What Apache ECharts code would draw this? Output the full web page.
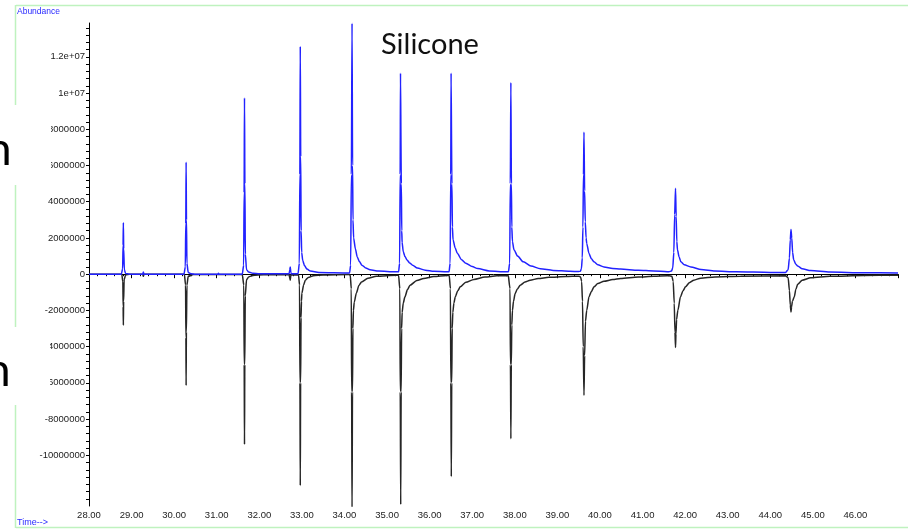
<!DOCTYPE html>
<html>
<head>
<meta charset="utf-8">
<script src="https://cdn.jsdelivr.net/npm/echarts@6/dist/echarts.min.js"></script>
<style>
html,body{margin:0;padding:0;background:#fff;}
#chart{width:908px;height:531px;}
</style>
</head>
<body>
<div id="chart"></div>
<script>
// Upper trace (blue), abundance in millions vs time (min)
var blueTrace = [
  [28.00,0.00],[28.76,0.00],[28.79,0.30],[28.80,1.60],[28.807,2.84],[28.815,1.40],[28.83,0.25],[28.86,0.04],[28.95,0.00],
  [29.26,0.00],[29.277,0.12],[29.29,0.00],
  [30.23,0.00],[30.262,0.40],[30.273,2.80],[30.281,6.18],[30.289,3.00],[30.30,0.60],[30.33,0.10],[30.40,0.02],[30.50,0.00],
  [31.03,0.00],[31.04,0.05],[31.05,0.00],
  [31.60,0.00],[31.632,0.50],[31.643,4.50],[31.652,9.73],[31.661,5.00],[31.672,1.10],[31.70,0.25],[31.75,0.12],[31.85,0.05],[32.00,0.02],
  [32.70,0.02],[32.715,0.25],[32.727,0.40],[32.74,0.10],[32.75,0.02],
  [32.91,0.03],[32.94,0.60],[32.952,5.50],[32.962,12.57],[32.972,6.50],[32.982,2.40],[32.995,1.20],[33.02,0.75],[33.06,0.48],[33.12,0.28],[33.20,0.17],[33.40,0.10],[34.10,0.07],
  [34.12,0.07],[34.145,0.50],[34.162,5.50],[34.178,13.85],[34.19,6.00],[34.20,3.00],[34.215,2.00],[34.256,1.40],[34.30,0.95],[34.35,0.70],[34.41,0.50],[34.50,0.34],[34.60,0.24],[34.80,0.17],[35.20,0.13],
  [35.27,0.13],[35.295,0.60],[35.308,5.50],[35.316,11.10],[35.326,11.10],[35.335,5.00],[35.345,2.40],[35.354,1.75],[35.38,1.25],[35.42,0.98],[35.47,0.78],[35.53,0.62],[35.60,0.50],[35.71,0.34],[35.90,0.22],[36.10,0.16],[36.40,0.13],
  [36.455,0.13],[36.482,0.60],[36.496,5.50],[36.504,11.10],[36.514,11.10],[36.523,5.00],[36.535,2.60],[36.55,1.90],[36.60,1.45],[36.65,1.15],[36.75,0.80],[36.85,0.60],[37.00,0.42],[37.13,0.31],[37.40,0.18],[37.80,0.13],
  [37.85,0.13],[37.88,0.60],[37.895,5.00],[37.908,10.58],[37.92,5.00],[37.93,2.60],[37.945,1.80],[37.98,1.35],[38.065,1.00],[38.20,0.68],[38.38,0.45],[38.60,0.30],[38.90,0.21],[39.30,0.16],[39.50,0.15],
  [39.54,0.16],[39.565,0.30],[39.585,0.90],[39.60,2.60],[39.613,5.50],[39.625,7.84],[39.64,4.60],[39.655,2.90],[39.675,2.00],[39.689,1.70],[39.743,1.14],[39.80,0.85],[39.86,0.68],[39.95,0.52],[40.095,0.40],[40.30,0.32],[40.485,0.28],[40.90,0.22],[41.265,0.18],[41.58,0.14],
  [41.62,0.14],[41.68,0.17],[41.71,0.35],[41.735,1.20],[41.755,3.30],[41.775,4.74],[41.79,3.20],[41.805,1.80],[41.822,1.33],[41.86,0.95],[41.90,0.68],[41.98,0.52],[42.135,0.40],[42.375,0.26],[42.70,0.18],[43.20,0.13],[44.00,0.10],[44.36,0.10],
  [44.42,0.25],[44.45,0.90],[44.47,1.90],[44.487,2.47],[44.505,2.00],[44.525,1.20],[44.55,0.80],[44.60,0.55],[44.644,0.45],[44.75,0.30],[44.95,0.20],[45.40,0.12],[46.20,0.08],[47.00,0.07]
];
// Lower trace (black), abundance in millions vs time (min)
var blackTrace = [
  [28.00,0.00],[28.77,0.00],[28.795,-0.40],[28.802,-1.80],[28.807,-2.82],[28.813,-1.50],[28.825,-0.30],[28.86,-0.05],[28.95,0.00],
  [29.26,0.00],[29.277,-0.12],[29.29,0.00],
  [30.24,0.00],[30.268,-0.60],[30.276,-3.50],[30.281,-6.14],[30.287,-3.20],[30.30,-0.60],[30.33,-0.12],[30.45,-0.02],
  [31.60,-0.02],[31.636,-0.60],[31.645,-5.00],[31.652,-9.40],[31.659,-5.00],[31.67,-1.20],[31.70,-0.30],[31.75,-0.15],[31.85,-0.07],[32.10,-0.03],
  [32.70,-0.03],[32.717,-0.25],[32.727,-0.33],[32.74,-0.05],
  [32.92,-0.03],[32.945,-0.60],[32.954,-6.00],[32.962,-11.67],[32.970,-6.00],[32.980,-2.40],[32.99,-1.50],[33.00,-1.05],[33.04,-0.60],[33.08,-0.33],[33.15,-0.18],[33.27,-0.09],[33.50,-0.04],[34.10,-0.02],
  [34.135,-0.05],[34.16,-0.80],[34.168,-6.50],[34.178,-13.20],[34.188,-6.50],[34.198,-3.00],[34.21,-2.00],[34.23,-1.55],[34.278,-1.05],[34.34,-0.62],[34.40,-0.43],[34.55,-0.22],[34.75,-0.11],[35.22,-0.055],
  [35.27,-0.055],[35.30,-0.80],[35.31,-6.50],[35.321,-12.72],[35.331,-6.50],[35.342,-3.00],[35.355,-2.10],[35.38,-1.60],[35.42,-1.25],[35.48,-0.85],[35.54,-0.61],[35.70,-0.35],[35.86,-0.24],[36.10,-0.13],[36.40,-0.07],
  [36.46,-0.07],[36.488,-0.80],[36.498,-6.00],[36.509,-11.17],[36.519,-6.00],[36.53,-3.00],[36.545,-2.10],[36.57,-1.60],[36.603,-1.25],[36.66,-0.92],[36.72,-0.70],[36.85,-0.45],[37.04,-0.29],[37.30,-0.16],[37.58,-0.09],[37.85,-0.08],
  [37.86,-0.08],[37.888,-0.80],[37.898,-5.00],[37.908,-9.09],[37.918,-5.00],[37.93,-2.80],[37.945,-2.00],[37.97,-1.50],[38.008,-1.07],[38.06,-0.82],[38.128,-0.61],[38.24,-0.43],[38.36,-0.33],[38.55,-0.24],[38.80,-0.17],[39.20,-0.13],[39.50,-0.11],
  [39.545,-0.15],[39.57,-0.40],[39.59,-1.50],[39.607,-4.00],[39.625,-6.69],[39.64,-4.50],[39.66,-2.60],[39.689,-2.00],[39.743,-1.25],[39.80,-0.95],[39.86,-0.70],[39.95,-0.52],[40.095,-0.39],[40.30,-0.30],[40.485,-0.24],[40.90,-0.16],[41.265,-0.11],[41.58,-0.08],
  [41.62,-0.08],[41.69,-0.12],[41.72,-0.40],[41.745,-1.60],[41.762,-3.20],[41.775,-4.05],[41.785,-3.30],[41.80,-2.50],[41.829,-2.00],[41.892,-1.25],[41.95,-0.92],[42.01,-0.70],[42.10,-0.47],[42.205,-0.33],[42.365,-0.22],[42.70,-0.15],[43.30,-0.11],[44.36,-0.09],
  [44.42,-0.20],[44.45,-0.90],[44.47,-1.70],[44.487,-2.09],[44.50,-1.80],[44.52,-1.50],[44.565,-1.25],[44.60,-0.85],[44.644,-0.55],[44.75,-0.33],[44.95,-0.20],[45.40,-0.12],[46.20,-0.07],[47.00,-0.055]
];
// Axis settings (values in millions on y)
var xRange = [28, 47];
var yRange = [-12.8, 13.87];
var yLabelOverrides = {"12": "1.2e+07", "10": "1e+07"};
var yLabelLowest = -10;

var chart = echarts.init(document.getElementById('chart'), null, {renderer: 'canvas'});
var lblFont = {fontFamily: 'Liberation Sans, Arial, sans-serif', fontSize: 9.5, color: '#222'};

chart.setOption({
  animation: false,
  backgroundColor: '#ffffff',
  grid: {left: 89, right: 10, top: 23, bottom: 25, containLabel: false},
  xAxis: {
    type: 'value', min: xRange[0], max: xRange[1], interval: 1,
    axisLine: {show: true, lineStyle: {color: '#000', width: 1}},
    axisTick: {show: true, length: 4, lineStyle: {color: '#000'}},
    minorTick: {show: true, splitNumber: 5, length: 2, lineStyle: {color: '#000'}},
    splitLine: {show: false},
    axisLabel: Object.assign({margin: 4, showMaxLabel: false, formatter: function (v) { return v.toFixed(2); }}, lblFont)
  },
  yAxis: {
    type: 'value', min: yRange[0], max: yRange[1], interval: 0.4,
    axisLine: {show: true, lineStyle: {color: '#000', width: 1}},
    axisTick: {show: true, length: 3, lineStyle: {color: '#000'}},
    splitLine: {show: false},
    axisLabel: Object.assign({margin: 4, showMinLabel: false, showMaxLabel: false, formatter: function (v) {
      var r = Math.round(v * 10);
      if (r % 20 !== 0) return '';
      var n = r / 10;
      if (n < yLabelLowest) return '';
      if (yLabelOverrides[String(n)]) return yLabelOverrides[String(n)];
      return String(Math.round(n * 1e6));
    }}, lblFont)
  },
  series: [
    {type: 'line', data: blackTrace, showSymbol: false, symbol: 'none', smooth: 0.25, smoothMonotone: 'x',
     lineStyle: {color: '#262626', width: 1.5}, z: 2},
    {type: 'line', data: blueTrace, showSymbol: false, symbol: 'none', smooth: 0.25, smoothMonotone: 'x',
     lineStyle: {color: '#2222ff', width: 1.5}, z: 3}
  ],
  graphic: [
    {type: 'line', z: 50, shape: {x1: 16, y1: 5.5, x2: 908, y2: 5.5}, style: {stroke: '#bff2bf', lineWidth: 1.5}},
    {type: 'line', z: 50, shape: {x1: 16, y1: 527.5, x2: 908, y2: 527.5}, style: {stroke: '#bff2bf', lineWidth: 1.5}},
    {type: 'line', z: 50, shape: {x1: 15.5, y1: 5, x2: 15.5, y2: 528}, style: {stroke: '#bff2bf', lineWidth: 1.5}},
    {type: 'rect', z: 100, shape: {x: 0, y: 105, width: 51, height: 80}, style: {fill: '#ffffff'}},
    {type: 'rect', z: 100, shape: {x: 0, y: 327, width: 50, height: 78}, style: {fill: '#ffffff'}},
    {type: 'text', z: 101, style: {text: 'n', x: -14, y: 150, font: '46px Lato, sans-serif', fill: '#000', textVerticalAlign: 'middle'}},
    {type: 'text', z: 101, style: {text: 'n', x: -15, y: 371, font: '46px Lato, sans-serif', fill: '#000', textVerticalAlign: 'middle'}},
    {type: 'text', z: 101, style: {text: 'Abundance', x: 17, y: 12, font: '8.5px Liberation Sans, Arial, sans-serif', fill: '#2a2aff', textVerticalAlign: 'middle'}},
    {type: 'text', z: 101, style: {text: 'Time-->', x: 17, y: 523, font: '9px Liberation Sans, Arial, sans-serif', fill: '#2a2aff', textVerticalAlign: 'middle'}},
    {type: 'text', z: 101, style: {text: 'Silicone', x: 381, y: 45, font: '29px Lato, sans-serif', fill: '#111', textVerticalAlign: 'middle'}}
  ]
});
</script>
</body>
</html>
